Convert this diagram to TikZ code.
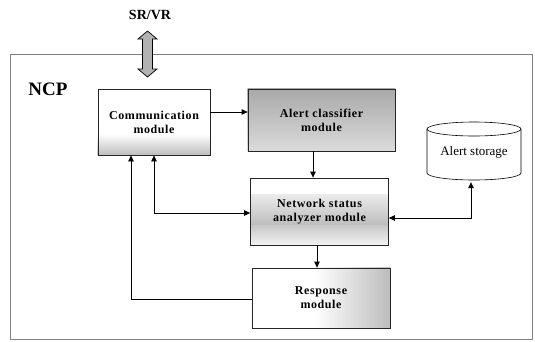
\documentclass[tikz,border=0pt]{standalone}
\usepackage{fontspec}
\setmainfont{Liberation Serif}
\newfontfamily\spacedfont[LetterSpace=5]{Liberation Serif}
\usetikzlibrary{arrows.meta,calc,backgrounds}

\tikzset{
  module/.style={draw=black!85, line width=0.8pt, inner sep=2pt, align=center,
    font=\spacedfont\bfseries\fontsize{12}{14}\selectfont},
  frame/.style={draw=black!50, line width=0.5pt, inner sep=0pt},
  link/.style={draw=black, line width=0.8pt},
  arr/.style={link, -{Triangle[length=6pt,width=5.5pt]}},
  arrboth/.style={link, {Triangle[length=6pt,width=5.5pt]}-{Triangle[length=6pt,width=5.5pt]}},
}

\begin{document}
\begin{tikzpicture}[x=1pt,y=-1pt]
\useasboundingbox (0,0) rectangle (535,341);

% NCP frame
\node[frame, minimum width=522pt, minimum height=285pt] (ncp) at (271,196.5) {};
\node[font=\bfseries\fontsize{19}{21}\selectfont, inner sep=0pt] (ncplabel) at (48,89) {NCP};

% external interface
\node[font=\bfseries\fontsize{14}{16}\selectfont, inner sep=0pt] (srvr) at (150,15) {SR/VR};
\draw[line width=0.7pt, draw=black, fill=black!30]
  (147.5,31) -- (157,39) -- (152.5,39) -- (152.5,69) -- (157,69) -- (147.5,77)
  -- (138,69) -- (142.5,69) -- (142.5,39) -- (138,39) -- cycle;

% modules
\node[module, minimum width=112pt, minimum height=66pt] (comm) at (154,122)
  {Communication\\module};
\node[module, minimum width=147pt, minimum height=62pt] (alert) at (321.5,120)
  {Alert classifier\\module};
\node[module, minimum width=138pt, minimum height=67pt] (net) at (319.5,211.5)
  {Network status\\analyzer module};
\node[module, minimum width=138pt, minimum height=60pt] (resp) at (321,298)
  {Response\\module};

% module fills
\begin{scope}[on background layer]
  \fill[white] (comm.south west) rectangle (comm.north east);
  \fill[top color=white, bottom color=black!26]
    (comm.south west) rectangle ($(comm.south east)!0.32!(comm.north east)$);
  \fill[top color=black!34, bottom color=black!14] (alert.south west) rectangle (alert.north east);
  \fill[white] (net.south west) rectangle (net.north east);
  \fill[top color=black!8, bottom color=black!26]
    ($(net.south west)!0.3!(net.north west)$) rectangle ($(net.south east)!0.75!(net.north east)$);
  \fill[top color=black!22, bottom color=black!4]
    (net.south west) rectangle ($(net.south east)!0.3!(net.north east)$);
  \fill[white] (resp.south west) rectangle (resp.north east);
  \fill[left color=white, right color=black!26]
    ($(resp.south west)!0.45!(resp.south east)$) rectangle (resp.north east);
\end{scope}

% alert storage cylinder
\node[minimum width=94pt, minimum height=60pt, inner sep=0pt,
  font=\fontsize{13}{15}\selectfont] (store) at (474,152) {Alert storage};
\draw[line width=0.6pt] (427,129) -- (427,173) arc[start angle=180, end angle=360, x radius=47, y radius=-7]
  -- (521,129);
\draw[line width=0.6pt, fill=white] (474,129) ellipse[x radius=47, y radius=7];

% connectors
\draw[arr] ([yshift=10pt]comm.east) -- ([yshift=10pt]comm.east -| alert.west);
\draw[arr] ([xshift=-8.5pt]alert.south) -- ([xshift=-8.5pt]alert.south |- net.north);
\draw[arr] ([xshift=-2.5pt]net.south) -- ([xshift=-2.5pt]net.south |- resp.north);
\draw[arrboth] (comm.south) |- ([yshift=-1.5pt]net.west);
\draw[arr] ([yshift=-1pt]resp.west) -| ([xshift=-23pt]comm.south);
\draw[arrboth] ([yshift=-6.5pt]net.east) -| ([xshift=-3pt]store.south);
\end{tikzpicture}
\end{document}
